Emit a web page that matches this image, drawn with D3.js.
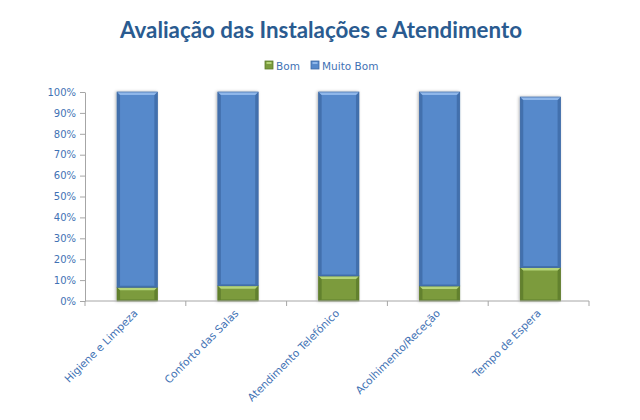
<!DOCTYPE html>
<meta charset="utf-8">
<style>
body { margin: 0; background: #fff; }
text { font-family: "DejaVu Sans", Verdana, sans-serif; }
.axis path, .axis line { stroke: #a6a6a6; }
.axis text { fill: #3f72b4; font-size: 10px; }
.axis text.lbl { font-size: 10.6px; }
</style>
<svg width="640" height="420"></svg>
<script src="https://d3js.org/d3.v7.min.js"></script>
<script>

// data (percent of answers)
var categories = ["Higiene e Limpeza", "Conforto das Salas", "Atendimento Telefónico", "Acolhimento/Receção", "Tempo de Espera"];
var bom = [6.6, 7.3, 12.0, 7.2, 16.0];
var muitoBom = [93.4, 92.7, 88.0, 92.8, 81.6];
var yTicks = [0, 10, 20, 30, 40, 50, 60, 70, 80, 90, 100];
var seriesNames = ["Bom", "Muito Bom"];

var svg = d3.select("svg");

var margin = {left: 85, right: 51, top: 92, bottom: 119};
var width = 640 - margin.left - margin.right,
    height = 420 - margin.top - margin.bottom;

var colors = {
  "Bom":       {main: "#7b9b3d", light: "#b5d578", dark: "#5d7a2a"},
  "Muito Bom": {main: "#5689cb", light: "#8fb7ea", dark: "#3f6aa5"}
};

var defs = svg.append("defs");
defs.append("filter").attr("id", "shadow")
    .attr("x", "-20%").attr("y", "-5%").attr("width", "140%").attr("height", "110%")
  .append("feDropShadow")
    .attr("dx", -1).attr("dy", 0).attr("stdDeviation", 1.5)
    .attr("flood-color", "#000").attr("flood-opacity", 0.3);

// title
svg.append("text")
    .attr("x", 321).attr("y", 38)
    .attr("text-anchor", "middle")
    .style("font-family", "Lato, 'Open Sans', sans-serif")
    .style("font-weight", "bold")
    .style("font-size", "22px")
    .attr("textLength", 402)
    .attr("lengthAdjust", "spacingAndGlyphs")
    .style("fill", "#2a5b90")
    .text("Avaliação das Instalações e Atendimento");

// legend
var legendX = [265, 311];
var legend = svg.append("g").selectAll("g")
    .data(seriesNames).enter().append("g")
    .attr("transform", function(d, i) { return "translate(" + legendX[i] + ",61)"; });
legend.append("rect")
    .attr("width", 8).attr("height", 8)
    .attr("fill", function(d) { return colors[d].main; })
    .attr("stroke", function(d) { return colors[d].dark; })
    .attr("stroke-width", 0.8);
legend.append("rect")
    .attr("x", 1.5).attr("y", 1).attr("width", 5).attr("height", 2)
    .attr("fill", function(d) { return colors[d].light; });
legend.append("text")
    .attr("x", 11).attr("y", 8.5)
    .style("font-size", "10.5px")
    .style("fill", "#3f72b4")
    .text(function(d) { return d; });

var g = svg.append("g")
    .attr("transform", "translate(" + margin.left + "," + margin.top + ")");

var x = d3.scaleBand()
    .domain(categories)
    .range([0, width])
    .paddingInner(0.6)
    .paddingOuter(0.3)
    .align(0.53);

var y = d3.scaleLinear()
    .domain([0, 100])
    .range([height, 0]);

// y axis
g.append("g")
    .attr("class", "axis")
    .call(d3.axisLeft(y).tickValues(yTicks).tickSize(5).tickSizeOuter(0).tickPadding(4)
      .tickFormat(function(d) { return d + "%"; }));

// bars
var stacked = categories.map(function(c, i) {
  return [
    {cat: c, s: "Bom", y0: 0, y1: bom[i]},
    {cat: c, s: "Muito Bom", y0: bom[i], y1: bom[i] + muitoBom[i]}
  ];
});

var barG = g.append("g").selectAll("g")
    .data(stacked).enter().append("g")
    .attr("filter", "url(#shadow)");

var seg = barG.selectAll("g")
    .data(function(d) { return d; }).enter().append("g");

var bev = 3;
seg.append("rect")
    .attr("x", function(d) { return x(d.cat); })
    .attr("y", function(d) { return y(d.y1); })
    .attr("width", x.bandwidth())
    .attr("height", function(d) { return y(d.y0) - y(d.y1); })
    .attr("fill", function(d) { return colors[d.s].main; });

// darker side and bottom edges
seg.append("path")
    .attr("fill", function(d) { return colors[d.s].dark; })
    .attr("opacity", 0.8)
    .attr("d", function(d) {
      var x0 = x(d.cat), x1 = x0 + x.bandwidth(), t = y(d.y1), b = y(d.y0);
      return "M" + x0 + "," + t + "L" + (x0 + bev) + "," + (t + bev) + "L" + (x0 + bev) + "," + (b - bev / 2) +
        "L" + (x1 - bev) + "," + (b - bev / 2) + "L" + (x1 - bev) + "," + (t + bev) + "L" + x1 + "," + t +
        "L" + x1 + "," + b + "L" + x0 + "," + b + "Z";
    });

// lighter top bevel
seg.append("path")
    .attr("fill", function(d) { return colors[d.s].light; })
    .attr("d", function(d) {
      var x0 = x(d.cat), x1 = x0 + x.bandwidth(), t = y(d.y1);
      return "M" + x0 + "," + t + "L" + x1 + "," + t + "L" + (x1 - bev) + "," + (t + bev) +
        "L" + (x0 + bev) + "," + (t + bev) + "Z";
    });

seg.append("rect")
    .attr("x", function(d) { return x(d.cat); })
    .attr("y", function(d) { return y(d.y1); })
    .attr("width", x.bandwidth())
    .attr("height", function(d) { return y(d.y0) - y(d.y1); })
    .attr("fill", "none")
    .attr("stroke", function(d) { return colors[d.s].dark; })
    .attr("stroke-width", 0.7);

// x axis with ticks between categories
var xAxis = g.append("g")
    .attr("class", "axis")
    .attr("transform", "translate(0," + height + ")");

xAxis.append("line")
    .attr("x1", 0).attr("x2", width);

xAxis.selectAll(".tk")
    .data(d3.range(categories.length + 1)).enter().append("line")
    .attr("class", "tk")
    .attr("x1", function(i) { return i * x.step(); })
    .attr("x2", function(i) { return i * x.step(); })
    .attr("y1", 0).attr("y2", 5);

xAxis.selectAll(".lbl")
    .data(categories).enter().append("text")
    .attr("class", "lbl")
    .attr("text-anchor", "end")
    .attr("transform", function(i, j) {
      var c = (j + 0.5) * x.step();
      return "translate(" + (c + 3) + ",13) rotate(-45)";
    })
    .text(function(d) { return d; });

</script>
